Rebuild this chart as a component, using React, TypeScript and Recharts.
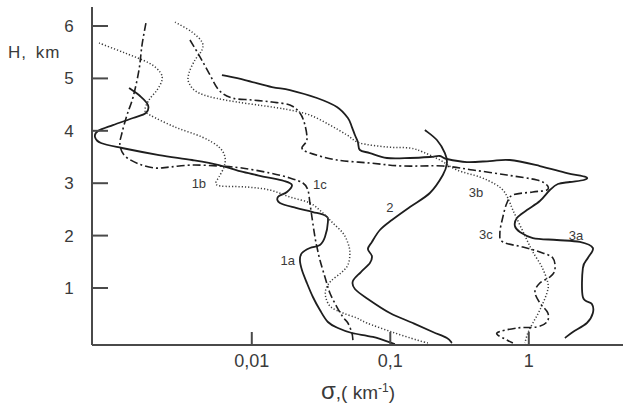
import { LineChart, Line, XAxis, YAxis, ReferenceDot } from "recharts";

// vertical profiles: [sigma (km^-1), H (km)]
const curve1a: [number, number][] = [
  [0.0013, 4.817], [0.00156, 4.664], [0.00178, 4.492], [0.00172, 4.34], [0.00139, 4.244],
  [0.000994, 4.11], [0.000776, 3.996], [0.000738, 3.882], [0.000815, 3.767], [0.001155, 3.672],
  [0.00214, 3.538], [0.0037, 3.443], [0.00579, 3.347], [0.00863, 3.214], [0.01265, 3.118],
  [0.01707, 3.042], [0.01949, 2.965], [0.01794, 2.832], [0.01544, 2.736], [0.01597, 2.622],
  [0.02083, 2.527], [0.02762, 2.45], [0.0343, 2.374], [0.03545, 2.259], [0.03374, 1.973],
  [0.03104, 1.82], [0.02628, 1.763], [0.02302, 1.668], [0.02226, 1.534], [0.02302, 1.343],
  [0.025, 1.095], [0.02762, 0.828], [0.03104, 0.58], [0.03545, 0.351], [0.04185, 0.236],
  [0.05283, 0.141], [0.07487, 0.065], [0.108, -0.069],
];

const curve1b: [number, number][] = [
  [0.000789, 5.675], [0.001214, 5.485], [0.00181, 5.294], [0.002174, 5.122], [0.002248, 4.969],
  [0.002069, 4.778], [0.00181, 4.588], [0.001695, 4.397], [0.001841, 4.301], [0.00279, 4.072],
  [0.004369, 3.882], [0.00579, 3.691], [0.0064, 3.5], [0.0063, 3.309], [0.00579, 3.118],
  [0.00551, 3.004], [0.00599, 2.946], [0.00923, 2.927], [0.01352, 2.87], [0.01885, 2.736],
  [0.02628, 2.622], [0.03262, 2.431], [0.03851, 2.24], [0.04548, 2.049], [0.04941, 1.859],
  [0.05109, 1.668], [0.04941, 1.439], [0.044, 1.286], [0.03726, 1.133], [0.0343, 0.981],
  [0.0343, 0.809], [0.03726, 0.637], [0.04548, 0.523], [0.05743, 0.427], [0.06781, 0.332],
  [0.1027, 0.16], [0.1557, 0.007], [0.1868, -0.05],
];

const curve1c: [number, number][] = [
  [0.00172, 6.057], [0.001612, 5.637], [0.001533, 5.16], [0.00139, 4.645], [0.001256, 4.301],
  [0.001155, 3.958], [0.001117, 3.729], [0.001214, 3.519], [0.001533, 3.366], [0.002, 3.29],
  [0.002567, 3.309], [0.0037, 3.347], [0.00579, 3.328], [0.008493, 3.29], [0.01352, 3.194],
  [0.01885, 3.099], [0.0234, 3.004], [0.02542, 2.87], [0.02628, 2.622], [0.02717, 2.355],
  [0.02857, 1.973], [0.02954, 1.782], [0.03104, 1.534], [0.03374, 1.21], [0.03664, 0.904],
  [0.04118, 0.637], [0.04548, 0.446], [0.04941, 0.332], [0.05283, 0.141], [0.0537, 0.007],
];

const curve2: [number, number][] = [
  [0.1778, 4.015], [0.217, 3.824], [0.2478, 3.576], [0.2563, 3.385], [0.2396, 3.156],
  [0.1931, 2.813], [0.1385, 2.546], [0.1027, 2.298], [0.08412, 2.107], [0.07366, 1.878],
  [0.0689, 1.744], [0.07366, 1.61], [0.07124, 1.477], [0.06135, 1.305], [0.0537, 1.133],
  [0.05553, 0.981], [0.0689, 0.79], [0.0993, 0.523], [0.1456, 0.332], [0.203, 0.16],
  [0.2563, 0.046], [0.2785, -0.05],
];

const curve3a: [number, number][] = [
  [0.00609, 5.065], [0.00893, 4.969], [0.01398, 4.836], [0.01885, 4.778], [0.02954, 4.626],
  [0.04118, 4.454], [0.04941, 4.244], [0.05283, 4.072], [0.05553, 3.92], [0.05834, 3.786],
  [0.06033, 3.633], [0.07124, 3.576], [0.09455, 3.481], [0.1385, 3.481], [0.1931, 3.5],
  [0.228, 3.519], [0.2563, 3.462], [0.3574, 3.404], [0.5235, 3.423], [0.73, 3.443],
  [1.202, 3.328], [1.884, 3.194], [2.582, 3.118], [2.498, 3.061], [1.979, 3.023],
  [1.621, 2.985], [1.419, 2.87], [1.202, 2.66], [0.9689, 2.488], [0.8205, 2.336],
  [0.7935, 2.183], [0.862, 2.069], [1.07, 1.954], [1.595, 1.916], [2.337, 1.878],
  [2.901, 1.763], [2.669, 1.572], [2.456, 1.381], [2.456, 0.828], [2.854, 0.694],
  [2.901, 0.523], [2.627, 0.332], [2.08, 0.16], [1.822, 0.046],
];

const curve3b: [number, number][] = [
  [0.00279, 6.076], [0.0037, 5.885], [0.004369, 5.695], [0.004369, 5.542], [0.00389, 5.351],
  [0.00352, 5.103], [0.00352, 4.912], [0.004155, 4.721], [0.0064, 4.588], [0.01398, 4.454],
  [0.01885, 4.397], [0.02628, 4.301], [0.03664, 4.11], [0.04863, 3.92], [0.06033, 3.767],
  [0.09455, 3.691], [0.1385, 3.672], [0.1719, 3.595], [0.228, 3.443], [0.3027, 3.252],
  [0.4434, 3.118], [0.569, 2.985], [0.6497, 2.87], [0.706, 2.717], [0.7672, 2.488],
  [0.862, 2.202], [0.9689, 1.916], [1.07, 1.687], [1.243, 1.401], [1.373, 1.095],
  [1.351, 0.904], [1.202, 0.58], [1.07, 0.332], [0.9844, 0.141], [0.937, -0.05],
];

const curve3c: [number, number][] = [
  [0.003578, 5.733], [0.004155, 5.446], [0.004906, 5.103], [0.00579, 4.778], [0.00719, 4.626],
  [0.01003, 4.588], [0.01398, 4.549], [0.01885, 4.492], [0.02226, 4.34], [0.0242, 4.11],
  [0.025, 3.824], [0.02302, 3.672], [0.02628, 3.576], [0.04118, 3.443], [0.07124, 3.385],
  [0.1233, 3.328], [0.2396, 3.328], [0.3946, 3.252], [0.6949, 3.156], [1.144, 3.061],
  [1.351, 2.965], [1.351, 2.87], [1.07, 2.832], [0.7672, 2.775], [0.6949, 2.622],
  [0.6497, 2.355], [0.6182, 2.049], [0.6497, 1.878], [0.906, 1.782], [1.202, 1.687],
  [1.491, 1.572], [1.542, 1.343], [1.419, 1.21], [1.202, 1.095], [1.107, 0.923],
  [1.202, 0.714], [1.373, 0.523], [1.351, 0.351], [1.144, 0.256], [0.8205, 0.236],
  [0.5884, 0.141], [0.6949, 0.007], [0.7672, -0.05],
];

const curveLabels: { text: string; s: number; h: number }[] = [
  { text: "1a", s: 0.0182, h: 1.53 },
  { text: "1b", s: 0.00415, h: 3.0 },
  { text: "1c", s: 0.031, h: 2.98 },
  { text: "2", s: 0.0993, h: 2.53 },
  { text: "3b", s: 0.415, h: 2.83 },
  { text: "3c", s: 0.49, h: 2.03 },
  { text: "3a", s: 2.19, h: 2.01 },
];

const heightTicks = [1, 2, 3, 4, 5, 6];
const sigmaTicks = [0.01, 0.1, 1];

const rows = (pts: [number, number][]) => pts.map(([s, h]) => ({ s, h }));

// catmull-rom style curve so the profiles pass through the read points
const smooth = (context: any) => {
  let pts: [number, number][] = [];
  return {
    areaStart() {},
    areaEnd() {},
    lineStart() {
      pts = [];
    },
    point(x: number, y: number) {
      pts.push([+x, +y]);
    },
    lineEnd() {
      if (!pts.length) return;
      context.moveTo(pts[0][0], pts[0][1]);
      for (let i = 0; i < pts.length - 1; i++) {
        const p0 = pts[Math.max(i - 1, 0)];
        const p1 = pts[i];
        const p2 = pts[i + 1];
        const p3 = pts[Math.min(i + 2, pts.length - 1)];
        context.bezierCurveTo(
          p1[0] + (p2[0] - p0[0]) / 6,
          p1[1] + (p2[1] - p0[1]) / 6,
          p2[0] - (p3[0] - p1[0]) / 6,
          p2[1] - (p3[1] - p1[1]) / 6,
          p2[0],
          p2[1]
        );
      }
    },
  };
};

const AXIS = "#4a4a4a";
const INK = "#1e1e1e";
const TEXT = "#3a3a3a";
const SOLID = { stroke: INK, strokeWidth: 1.8 };
const DOTTED = { stroke: "#3c3c3c", strokeWidth: 1.5, strokeDasharray: "1.2 2" };
const DASHDOT = { stroke: INK, strokeWidth: 1.6, strokeDasharray: "8 3 2 3" };

const series = [
  { key: "1a", pts: curve1a, style: SOLID },
  { key: "1b", pts: curve1b, style: DOTTED },
  { key: "1c", pts: curve1c, style: DASHDOT },
  { key: "2", pts: curve2, style: SOLID },
  { key: "3a", pts: curve3a, style: SOLID },
  { key: "3b", pts: curve3b, style: DOTTED },
  { key: "3c", pts: curve3c, style: DASHDOT },
];

const YTick = ({ x, y, payload }: any) => (
  <g>
    <line x1={x} x2={x + 16} y1={y} y2={y} stroke={AXIS} strokeWidth={2} />
    <text x={x - 23} y={y} dy={6} textAnchor="middle" fontSize={17} fill={TEXT}>
      {payload.value}
    </text>
  </g>
);

const XTick = ({ x, y, payload }: any) => (
  <g>
    <line x1={x} x2={x} y1={y - 13} y2={y} stroke={AXIS} strokeWidth={2} />
    <text x={x} y={y + 22} textAnchor="middle" fontSize={18} fill={TEXT}>
      {String(payload.value).replace(".", ",")}
    </text>
  </g>
);

export default function App() {
  return (
    <div
      style={{
        position: "absolute",
        left: 0,
        top: 0,
        width: 623,
        height: 404,
        background: "#fff",
        fontFamily: "'Liberation Sans', Arial, sans-serif",
      }}
    >
      <LineChart
        width={623}
        height={404}
        layout="vertical"
        margin={{ top: 7, right: 0, bottom: 0, left: 0 }}
      >
        <XAxis
          type="number"
          dataKey="s"
          scale="log"
          domain={[0.000702, 4.787]}
          allowDataOverflow
          ticks={sigmaTicks}
          height={59}
          tickSize={0}
          tickMargin={0}
          tickLine={false}
          tick={<XTick />}
          axisLine={{ stroke: AXIS, strokeWidth: 2 }}
        />
        <YAxis
          type="number"
          dataKey="h"
          domain={[-0.088, 6.363]}
          reversed
          allowDataOverflow
          ticks={heightTicks}
          width={92}
          tickSize={0}
          tickMargin={0}
          tickLine={false}
          tick={<YTick />}
          axisLine={{ stroke: AXIS, strokeWidth: 2 }}
        />
        {series.map((c) => (
          <Line
            key={c.key}
            data={rows(c.pts)}
            dataKey="s"
            type={smooth as any}
            dot={false}
            activeDot={false}
            fill="none"
            isAnimationActive={false}
            {...c.style}
          />
        ))}
        {curveLabels.map((l) => (
          <ReferenceDot
            key={l.text}
            x={l.s}
            y={l.h}
            r={0}
            stroke="none"
            fill="none"
            label={{ value: l.text, position: "center", fontSize: 13, fill: TEXT }}
          />
        ))}
      </LineChart>
      <div
        style={{
          position: "absolute",
          left: 8,
          top: 43,
          fontSize: 17,
          color: TEXT,
          wordSpacing: 3,
          letterSpacing: 1,
        }}
      >
        H, km
      </div>
      <div
        style={{
          position: "absolute",
          left: 321,
          top: 377,
          fontSize: 19,
          color: TEXT,
          whiteSpace: "nowrap",
        }}
      >
        <span style={{ fontSize: 24 }}>σ</span>,( km<sup style={{ fontSize: 12 }}>-1</sup>)
      </div>
    </div>
  );
}
